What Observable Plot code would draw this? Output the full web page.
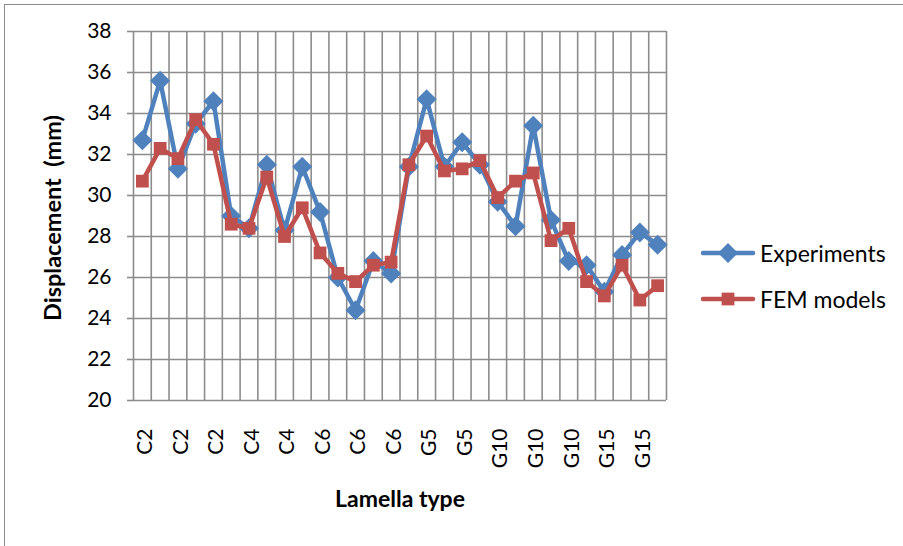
<!DOCTYPE html>
<html><head><meta charset="utf-8">
<script src="https://cdn.jsdelivr.net/npm/d3@7"></script>
<script src="https://cdn.jsdelivr.net/npm/@observablehq/plot@0.6"></script>
<style>
body{margin:0;background:#fff;}
#wrap{position:relative;width:903px;height:546px;overflow:hidden;font-family:Lato, sans-serif;}
#frame{position:absolute;left:4px;top:4px;width:910px;height:560px;border:1.5px solid #8c8c8c;box-sizing:border-box;}
#chart{position:absolute;left:0;top:0;}
.lg{position:absolute;left:701px;display:flex;align-items:center;font-size:23px;color:#000;}
.lg svg{display:block;}
.lg span{margin-left:3px;}
</style></head><body><div id="wrap"><div id="frame"></div><div id="chart"></div></div>
<script>
const categories = ["C2","C2","C2","C2","C2","C2","C4","C4","C4","C4","C6","C6","C6","C6","C6","C6","G5","G5","G5","G5","G10","G10","G10","G10","G10","G10","G15","G15","G15","G15"];
const experiments = [32.7,35.6,31.3,33.5,34.6,29.0,28.4,31.5,28.3,31.4,29.2,26.0,24.4,26.8,26.2,31.4,34.7,31.4,32.6,31.5,29.7,28.5,33.4,28.8,26.8,26.6,25.3,27.1,28.2,27.6];
const femModels = [30.7,32.3,31.8,33.7,32.5,28.6,28.4,30.9,28.0,29.4,27.2,26.2,25.8,26.6,26.75,31.5,32.9,31.2,31.3,31.7,29.9,30.7,31.1,27.8,28.4,25.8,25.1,26.6,24.9,25.6];
const seriesNames = ["Experiments","FEM models"];
const seriesColors = ["#4F81BD","#C0504D"];
const yTicks = [20,22,24,26,28,30,32,34,36,38];
const yTitle = "Displacement  (mm)";
const xTitle = "Lamella type";

const rows = categories.map((c,i)=>({i, c, exp: experiments[i], fem: femModels[i]}));
const bounds = d3.range(categories.length+1).map(i=>i-0.5);
const xTickIdx = categories.map((d,i)=>i).filter(i=>i%2===0);
const grid = "#8c8c8c";

const chart = Plot.plot({
  width:903, height:546, marginLeft:133, marginRight:237, marginTop:31, marginBottom:146,
  style:{fontFamily:"Lato, sans-serif", fontSize:"21px", color:"#000", background:"transparent"},
  x:{domain:[-0.5, categories.length-0.5], axis:null},
  y:{domain:[20,38], axis:null},
  marks:[
    Plot.ruleY(yTicks,{stroke:grid, strokeWidth:1.6}),
    Plot.ruleX(bounds,{stroke:grid, strokeWidth:1.6}),
    Plot.axisY({ticks:yTicks, tickSize:6, tickPadding:16, stroke:grid, strokeWidth:1.6, label:null}),
    Plot.axisX({ticks:xTickIdx, tickFormat:i=>categories[i], tickRotate:-90, tickSize:0, tickPadding:28, dx:3, label:null}),
    Plot.line(rows,{x:"i", y:"exp", stroke:seriesColors[0], strokeWidth:4.5}),
    Plot.dot(rows,{x:"i", y:"exp", symbol:"diamond2", r:9, fill:seriesColors[0]}),
    Plot.line(rows,{x:"i", y:"fem", stroke:seriesColors[1], strokeWidth:4.5}),
    Plot.dot(rows,{x:"i", y:"fem", symbol:"square", r:7.2, fill:seriesColors[1]}),
    Plot.text([yTitle],{text:d=>d, frameAnchor:"left", textAnchor:"middle", dx:-80, dy:2, rotate:-90, fontWeight:"bold", fontSize:23.5}),
    Plot.text([xTitle],{text:d=>d, frameAnchor:"bottom", textAnchor:"middle", dy:106, fontWeight:"bold", fontSize:23})
  ]
});
document.getElementById("chart").appendChild(chart);

const wrap = document.getElementById("wrap");
const legendY = [253, 299];
const symbols = [d3.symbolDiamond2, d3.symbolSquare];
const symSize = [Math.PI*9*9, Math.PI*7.2*7.2];
seriesNames.forEach((name,k)=>{
  const row = document.createElement("div");
  row.className = "lg";
  row.style.top = (legendY[k]-15)+"px";
  const svg = d3.create("svg").attr("width",56).attr("height",30);
  svg.append("line").attr("x1",2).attr("x2",52).attr("y1",15).attr("y2",15)
    .attr("stroke",seriesColors[k]).attr("stroke-width",4.5).attr("stroke-linecap","round");
  svg.append("path").attr("d",d3.symbol(symbols[k],symSize[k])()).attr("transform","translate(27,15)")
    .attr("fill",seriesColors[k]);
  row.appendChild(svg.node());
  const sp = document.createElement("span");
  sp.textContent = name;
  row.appendChild(sp);
  wrap.appendChild(row);
});
</script></body></html>
